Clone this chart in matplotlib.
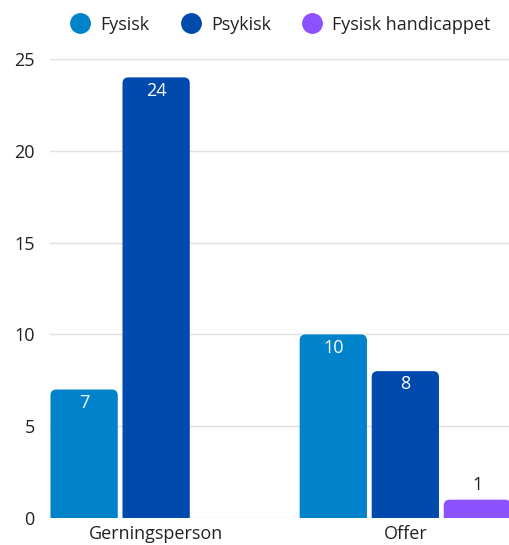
import matplotlib.pyplot as plt
import numpy as np
from matplotlib.patches import FancyBboxPatch

plt.rcParams['font.family'] = ['Open Sans', 'DejaVu Sans']

# data
categories = ['Gerningsperson', 'Offer']
series = ['Fysisk', 'Psykisk', 'Fysisk handicappet']
values = {
    'Fysisk': [7, 10],
    'Psykisk': [24, 8],
    'Fysisk handicappet': [0, 1],
}
colors = ['#0083CA', '#004AAD', '#8C52FF']

fig = plt.figure(figsize=(5.1, 5.45), dpi=100)
ax = fig.add_axes([0.098, 0.0495, 0.902, 0.8422])

x = np.arange(len(categories))
bar_w = 0.27
step = 0.289

for i, (name, col) in enumerate(zip(series, colors)):
    vals = values[name]
    bars = ax.bar(x + (i - 1) * step, vals, bar_w, color=col, label=name)
    for b, v in zip(bars, vals):
        b.set_visible(False)
        if v == 0:
            continue
        # rounded top corners (bottom part hidden below 0)
        rp = FancyBboxPatch((b.get_x(), -1), b.get_width(), v + 1,
                            boxstyle='round,pad=0,rounding_size=0.024',
                            mutation_aspect=13.6, facecolor=col,
                            edgecolor='none', zorder=3)
        ax.add_patch(rp)
        cx = b.get_x() + b.get_width() / 2
        if v >= 3:
            ax.annotate(str(v), (cx, v), xytext=(0, -3), textcoords='offset points',
                        ha='center', va='top', color='white', fontsize=13, zorder=4)
        else:
            ax.annotate(str(v), (cx, v), xytext=(0, 4), textcoords='offset points',
                        ha='center', va='bottom', color='#222222', fontsize=13, zorder=4)

ax.set_xlim(-0.426, 1.42)
ax.set_ylim(0, 25)
ax.set_yticks([0, 5, 10, 15, 20, 25])
ax.set_xticks(x)
ax.set_xticklabels(categories)
ax.tick_params(axis='both', length=0, labelsize=13, colors='#222222')
ax.tick_params(axis='y', pad=11)
ax.tick_params(axis='x', pad=5)
ax.grid(axis='y', color='#e0e0e0', linewidth=1, zorder=0)
ax.set_axisbelow(True)
for s in ax.spines.values():
    s.set_visible(False)

handles = [plt.Line2D([], [], marker='o', linestyle='none', markersize=14,
                      markerfacecolor=c, markeredgecolor=c) for c in colors]
fig.legend(handles, series, loc='center', bbox_to_anchor=(0.542, 0.955), ncol=3,
           frameon=False, fontsize=13, handletextpad=0.1, columnspacing=1.3,
           labelcolor='#222222')

plt.savefig('out.png', dpi=100)
